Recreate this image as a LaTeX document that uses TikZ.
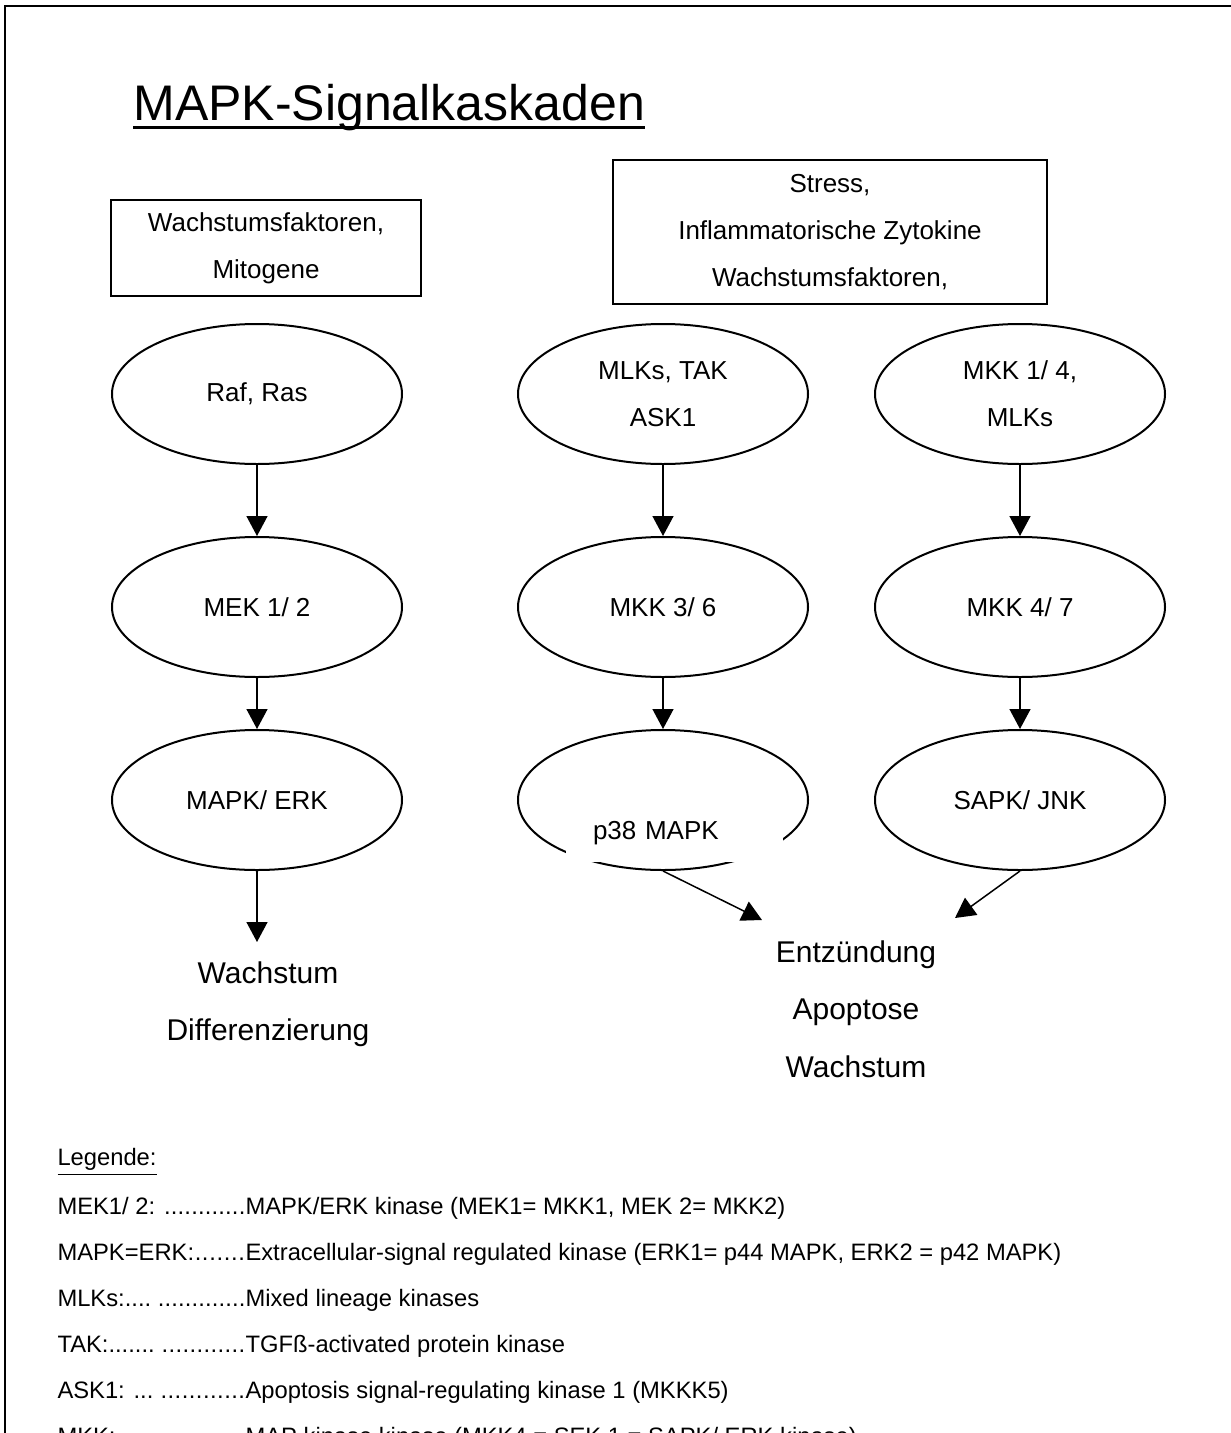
\documentclass[tikz,border=0pt]{standalone}
\usepackage{fontspec}
\setmainfont{Liberation Sans}
\usetikzlibrary{arrows.meta,shapes.geometric}

\newcommand\punkte{\xleaders\hbox{.}\hfill}

\tikzset{
  kinase/.style={shape=ellipse, draw=black, line width=0.8pt, minimum width=116pt,
                 minimum height=56pt, inner sep=0pt, align=center,
                 font=\fontsize{10.4}{18.8}\selectfont},
  reiz/.style={shape=rectangle, draw=black, line width=0.8pt, align=center,
               inner sep=0pt, font=\fontsize{10.4}{18.8}\selectfont},
  folge/.style={align=center, inner sep=0pt, font=\fontsize{12}{23}\selectfont},
  legtext/.style={anchor=west, inner sep=0pt, font=\fontsize{9.5}{11}\selectfont},
  pfeil/.style={line width=0.6pt, -{Triangle[length=8pt,width=8.4pt]}},
}

\def\xL{257}
\def\xM{663}
\def\xR{1020}
\def\yA{394}
\def\yB{607}
\def\yC{800}
\def\xLeg{57}

\begin{document}
\begin{tikzpicture}[x=0.4pt, y=-0.4pt]
    \useasboundingbox (0,0) rectangle (1231,1433);
    \clip (0,0) rectangle (1231,1433);

    %% frame
    \draw[line width=1pt] (5,1500) |- (1300,6);

    %% title
    \node[anchor=base west, inner sep=0pt, font=\fontsize{20}{24}\selectfont] (T) at (133,120) {MAPK-Signalkaskaden};
    \draw[line width=1.2pt] ([yshift=-2.9pt]T.base west) -- ([yshift=-2.9pt]T.base east);

    %% stimuli
    \node[reiz, minimum width=124pt, minimum height=38.4pt]   (S1) at (266,248) {Wachstumsfaktoren,\\Mitogene};
    \node[reiz, minimum width=173.6pt, minimum height=57.6pt] (S2) at (830,232) {Stress,\\Inflammatorische Zytokine\\Wachstumsfaktoren,};

    %%   (lable)  (x, y)     {\text}
    \node[kinase] (L1) at (\xL,\yA) {Raf, Ras};
    \node[kinase] (L2) at (\xL,\yB) {MEK 1/ 2};
    \node[kinase] (L3) at (\xL,\yC) {MAPK/ ERK};

    \node[kinase] (M1) at (\xM,\yA) {MLKs, TAK\\ASK1};
    \node[kinase] (M2) at (\xM,\yB) {MKK 3/ 6};
    \node[kinase] (M3) at (\xM,\yC) {};
    \node[fill=white, minimum width=86.8pt, minimum height=23.2pt, inner xsep=10.8pt,
          text width=65.2pt, align=left, font=\fontsize{10.4}{12}\selectfont] (P38) at (674.5,833) {p38 MAPK};

    \node[kinase] (R1) at (\xR,\yA) {MKK 1/ 4,\\MLKs};
    \node[kinase] (R2) at (\xR,\yB) {MKK 4/ 7};
    \node[kinase] (R3) at (\xR,\yC) {SAPK/ JNK};

    \coordinate (LW) at (\xL,942);
    \coordinate (E1) at (762,920);
    \coordinate (E2) at (955,918);

    \path[pfeil] (L1) edge (L2);
    \path[pfeil] (L2) edge (L3);
    \path[pfeil] (L3) edge (LW);

    \path[pfeil] (M1) edge (M2);
    \path[pfeil] (M2) edge (M3);
    \path[pfeil] (M3.south) edge (E1);

    \path[pfeil] (R1) edge (R2);
    \path[pfeil] (R2) edge (R3);
    \path[pfeil] (R3.south) edge (E2);

    %% effects
    \node[folge] (W1) at (268,1004) {Wachstum\\Differenzierung};
    \node[folge] (W2) at (856,1009) {Entzündung\\Apoptose\\Wachstum};

    %% legend
    \node[legtext] (G0) at (\xLeg,1162) {\underline{Legende:}};
    \node[legtext] (G1) at (\xLeg,1208) {\makebox[75.2pt][l]{MEK1/ 2: \punkte}MAPK/ERK kinase (MEK1= MKK1, MEK 2= MKK2)};
    \node[legtext] (G2) at (\xLeg,1254) {\makebox[75.2pt][l]{MAPK=ERK:\punkte}Extracellular-signal regulated kinase (ERK1= p44 MAPK, ERK2 = p42 MAPK)};
    \node[legtext] (G3) at (\xLeg,1300) {\makebox[75.2pt][l]{MLKs:....\ \punkte}Mixed lineage kinases};
    \node[legtext] (G4) at (\xLeg,1346) {\makebox[75.2pt][l]{TAK:.......\ \punkte}TGFß-activated protein kinase};
    \node[legtext] (G5) at (\xLeg,1392) {\makebox[75.2pt][l]{ASK1: ...\ \punkte}Apoptosis signal-regulating kinase 1 (MKKK5)};
    \node[legtext] (G6) at (\xLeg,1438) {\makebox[75.2pt][l]{MKK: \punkte}MAP kinase kinase (MKK4 = SEK 1 = SAPK/ ERK kinase)};

  \end{tikzpicture}
\end{document}
